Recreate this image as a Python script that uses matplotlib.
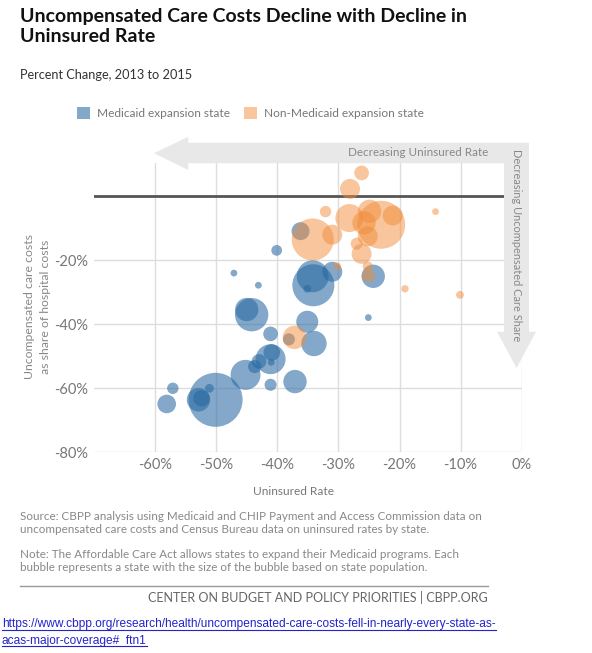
import matplotlib
matplotlib.use("Agg")
import matplotlib.pyplot as plt
from matplotlib.patches import Polygon, Patch
from matplotlib.lines import Line2D

# percent change 2013 -> 2015
# medicaid expansion states
exp_uninsured = [-36.2, -40.1, -47.1, -43.1, -34.2, -31.0, -34.1, -35.1, -24.3, -25.1,
                 -45.0, -44.2, -35.1, -41.1, -38.1, -34.0, -41.1, -40.9, -43.0, -43.7,
                 -41.0, -45.2, -37.1, -41.1, -50.1, -52.4, -52.9, -51.1, -57.1, -58.1]
exp_uncomp = [-10.9, -16.9, -24.0, -27.8, -25.0, -23.6, -27.8, -28.9, -25.0, -37.9,
              -35.4, -37.0, -39.2, -43.0, -44.7, -46.0, -50.9, -48.8, -51.6, -53.2,
              -51.9, -55.8, -57.9, -58.9, -63.6, -63.1, -63.6, -60.0, -60.0, -64.9]
exp_pop = [4.2, 1.5, 0.6, 0.6, 13.3, 5.2, 23.0, 0.8, 7.1, 0.6,
           7.1, 14.5, 6.3, 2.8, 1.9, 8.4, 11.7, 3.6, 2.8, 2.3,
           0.6, 11.7, 7.1, 1.9, 38.0, 3.6, 7.1, 1.0, 1.7, 4.5]

# non-expansion states
non_uninsured = [-26.2, -28.1, -32.1, -14.1, -23.0, -28.2, -24.9, -21.1, -25.8, -25.2,
                 -34.2, -31.0, -27.0, -26.2, -30.2, -25.2, -25.1, -19.1, -10.1, -37.2]
non_uncomp = [7.3, 2.3, -4.8, -4.8, -8.9, -6.8, -4.7, -6.0, -8.3, -12.5,
              -13.5, -12.0, -14.8, -18.0, -21.9, -21.9, -24.8, -28.9, -30.8, -44.1]
non_pop = [2.8, 5.2, 1.7, 0.6, 30.0, 10.2, 7.1, 5.2, 7.1, 5.2,
           23.0, 5.2, 1.9, 5.2, 0.8, 1.3, 2.3, 0.7, 0.8, 7.1]

x_ticks = [-60, -50, -40, -30, -20, -10, 0]
y_ticks = [-20, -40, -60, -80]

BLUE = "#2a6aa3"
ORANGE = "#f28c3a"
FONT = "Lato"

fig = plt.figure(figsize=(5.92, 6.53), dpi=100)
W, H = 592, 653


def fx(px):
    return px / W


def fy(py):
    return 1 - py / H


ax = fig.add_axes([fx(94), fy(452.3), fx(521.7) - fx(94), fy(163) - fy(452.3)])
ax.set_xlim(-70, 0)
ax.set_ylim(-80, 10.4)

for s in ax.spines.values():
    s.set_visible(False)
ax.set_xticks(x_ticks)
ax.set_yticks(y_ticks)
ax.set_xticklabels([f"{t}%" for t in x_ticks])
ax.set_yticklabels([f"{t}%" for t in y_ticks])
ax.tick_params(length=0, colors="#777777", labelsize=10.5, pad=4)
for lab in ax.get_xticklabels() + ax.get_yticklabels():
    lab.set_family(FONT)
ax.grid(True, color="#dddddd", linewidth=1)
ax.set_axisbelow(True)

ax.scatter(exp_uninsured, exp_uncomp, s=[p * 39.8 for p in exp_pop],
           color=BLUE, alpha=0.58, linewidths=0, zorder=3)
ax.scatter(non_uninsured, non_uncomp, s=[p * 39.8 for p in non_pop],
           color=ORANGE, alpha=0.5, linewidths=0, zorder=3)

ax.axhline(0, xmin=0, xmax=(504 - 94) / 427.7, color="#555555", linewidth=2, zorder=2)

# L shaped arrows, in figure pixels
arrow_col = "#e8e8e8"
h_arrow = [(154, 153.3), (188.3, 136.7), (188.3, 142.7), (529, 142.7), (529, 331.7),
           (536, 331.7), (516.5, 368), (497, 331.7), (504, 331.7), (504, 163.3),
           (188.3, 163.3), (188.3, 170)]
fig.patches.append(Polygon([(fx(a), fy(b)) for a, b in h_arrow], closed=True,
                           transform=fig.transFigure, facecolor=arrow_col,
                           edgecolor="none", zorder=5))
fig.text(fx(488), fy(152.5), "Decreasing Uninsured Rate", ha="right", va="center",
         fontsize=8.4, color="#888888", family=FONT, zorder=6)
fig.text(fx(516.5), fy(245), "Decreasing Uncompensated Care Share", ha="center", va="center",
         rotation=-90, fontsize=7.9, color="#888888", family=FONT, zorder=6)

# titles
fig.text(fx(20), fy(21.7), "Uncompensated Care Costs Decline with Decline in",
         ha="left", va="baseline", fontsize=14, fontweight="bold", color="#111111", family=FONT)
fig.text(fx(20), fy(41.7), "Uninsured Rate",
         ha="left", va="baseline", fontsize=14, fontweight="bold", color="#111111", family=FONT)
fig.text(fx(20), fy(75), "Percent Change, 2013 to 2015", ha="left", va="center",
         fontsize=9.2, color="#333333", family=FONT)

handles = [Patch(facecolor=BLUE, alpha=0.58, edgecolor="none", label="Medicaid expansion state"),
           Patch(facecolor=ORANGE, alpha=0.5, edgecolor="none", label="Non-Medicaid expansion state")]
leg = fig.legend(handles=handles, loc="center", bbox_to_anchor=(fx(250.5), fy(113)), ncol=2,
                 frameon=False, handlelength=1.09, handleheight=1.09, handletextpad=0.6,
                 columnspacing=1.2, prop={"family": FONT, "size": 8.6})
for t in leg.get_texts():
    t.set_color("#777777")

fig.text(fx(37.5), fy(306.7), "Uncompensated care costs\nas share of hospital costs",
         rotation=90, ha="center", va="center", multialignment="center",
         fontsize=8.8, color="#888888", family=FONT, linespacing=1.55)
fig.text(fx(293.7), fy(491.7), "Uninsured Rate", ha="center", va="center",
         fontsize=8.6, color="#777777", family=FONT)

fig.text(fx(20), fy(523.3),
         "Source: CBPP analysis using Medicaid and CHIP Payment and Access Commission data on\n"
         "uncompensated care costs and Census Bureau data on uninsured rates by state.",
         ha="left", va="center", fontsize=8.4, color="#888888", family=FONT, linespacing=1.25)
fig.text(fx(20), fy(561.3),
         "Note: The Affordable Care Act allows states to expand their Medicaid programs. Each\n"
         "bubble represents a state with the size of the bubble based on state population.",
         ha="left", va="center", fontsize=8.4, color="#888888", family=FONT, linespacing=1.25)

fig.lines.append(Line2D([fx(20), fx(488)], [fy(586), fy(586)], transform=fig.transFigure,
                        color="#999999", linewidth=1))
fig.text(fx(488), fy(597.3), "CENTER ON BUDGET AND POLICY PRIORITIES | CBPP.ORG",
         ha="right", va="center", fontsize=9.0, color="#666666", family=FONT)

url_lines = ["https://www.cbpp.org/research/health/uncompensated-care-costs-fell-in-nearly-every-state-as-",
             "acas-major-coverage#_ftn1"]
url_texts = []
for i, line in enumerate(url_lines):
    url_texts.append(fig.text(fx(2), fy(627 + i * 16.6), line, ha="left", va="baseline",
                              fontsize=8.6, color="#2323cc", family="Liberation Sans"))
fig.canvas.draw()
for t in url_texts:
    bb = t.get_window_extent()
    yb = bb.y0 + 0.5
    fig.lines.append(Line2D([bb.x0 / W, bb.x1 / W], [yb / H, yb / H], transform=fig.transFigure,
                            color="#2323cc", linewidth=0.8))

fig.savefig("out.png", dpi=100)
